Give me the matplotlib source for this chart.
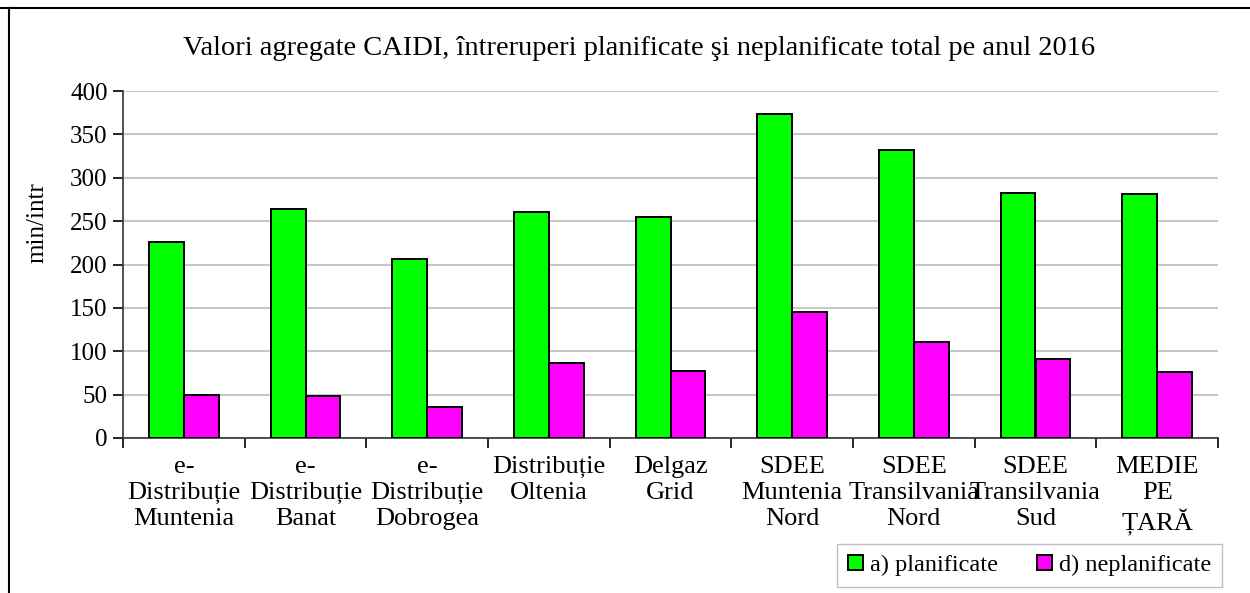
import numpy as np
import matplotlib
matplotlib.use("Agg")
from matplotlib import pyplot as plt
from matplotlib.lines import Line2D

plt.rcParams['font.family'] = ['Liberation Serif', 'DejaVu Serif']

# data
categories = ["e-\nDistribuție\nMuntenia", "e-\nDistribuție\nBanat", "e-\nDistribuție\nDobrogea",
              "Distribuție\nOltenia", "Delgaz\nGrid", "SDEE\nMuntenia\nNord",
              "SDEE\nTransilvania\nNord", "SDEE\nTransilvania\nSud", "MEDIE\nPE\nȚARĂ"]
planificate = [226, 264, 206, 261, 255, 374, 332, 282, 281]
neplanificate = [49, 48, 36, 86, 77, 145, 111, 91, 76]
y_ticks = [0, 50, 100, 150, 200, 250, 300, 350, 400]

fig = plt.figure(figsize=(12.5, 5.93), dpi=100)
ax = fig.add_axes([0.0984, 0.2614, 0.876, 0.585])

x = np.arange(len(categories))
w = 0.285
ax.bar(x - w / 2, planificate, w, color="#00ff00", edgecolor="black", linewidth=1.4,
       label="a) planificate", zorder=3)
ax.bar(x + w / 2, neplanificate, w, color="#ff00ff", edgecolor="black", linewidth=1.4,
       label="d) neplanificate", zorder=3)

ax.set_xlim(-0.5, len(categories) - 0.5)
ax.set_ylim(0, 400)
ax.set_yticks(y_ticks)
ax.tick_params(axis="y", labelsize=18, length=7, width=1.2, direction="out", pad=4)
ax.grid(axis="y", color="#c8c8c8", linewidth=1.5, zorder=0)

# category labels between boundary ticks
ax.set_xticks(np.arange(len(categories) + 1) - 0.5)
ax.set_xticklabels([])
ax.tick_params(axis="x", length=7, width=1.2, direction="out")
ax.set_xticks(x, minor=True)
ax.set_xticklabels(categories, minor=True, fontsize=19, linespacing=1.22)
ax.tick_params(axis="x", which="minor", length=0, pad=13)

for s in ["top", "right"]:
    ax.spines[s].set_visible(False)
ax.spines["left"].set_color("#333333")
ax.spines["bottom"].set_color("#333333")
ax.spines["left"].set_linewidth(1.2)
ax.spines["bottom"].set_linewidth(1.2)

ax.set_ylabel("min/intr", fontsize=18)
ax.yaxis.set_label_coords(-0.068, 0.62)

fig.text(0.511, 0.919,
         "Valori agregate CAIDI, întreruperi planificate şi neplanificate total pe anul 2016",
         fontsize=20.5, ha="center", va="center")

leg = fig.legend(loc="upper right", bbox_to_anchor=(0.9776, 0.0826), ncol=2, fontsize=17.5,
                 frameon=True, fancybox=False, edgecolor="#b0b0b0", handlelength=0.6,
                 handleheight=0.6, handletextpad=0.3, columnspacing=1.6, borderpad=0.45,
                 borderaxespad=0)
leg.get_frame().set_linewidth(1.0)

# outer frame lines
fig.add_artist(Line2D([0, 1], [0.986, 0.986], color="black", linewidth=1.5))
fig.add_artist(Line2D([0.007, 0.007], [0, 0.986], color="black", linewidth=1.5))

fig.savefig("out.png", dpi=100)
